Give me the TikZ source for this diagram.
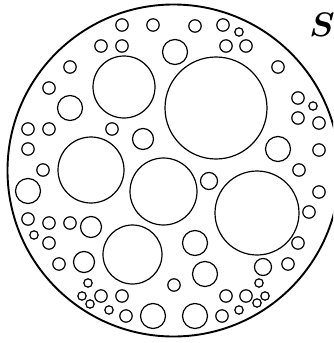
\documentclass[tikz,border=0pt]{standalone}
\usepackage{bm}
\begin{document}
\begin{tikzpicture}[x=1pt,y=-1pt,
  hole/.style={draw=black,line width=1.2pt},
  rim/.style={draw=black,line width=1.9pt}]
\useasboundingbox (0,0) rectangle (333,343);
\begin{scope}
\clip (0,0) rectangle (333,343);
\node[circle,rim,minimum size=332pt,inner sep=0pt] (rimc) at (173.5,170.5) {};
\end{scope}
% large
\foreach \x/\y/\r [count=\i] in {124/87/31, 216/108/51, 91/170/33, 163.5/191.5/33.5, 257/213/42, 132.5/254.5/29.5}
  \node[circle,hole,minimum size=2*\r pt,inner sep=0pt] (L\i) at (\x,\y) {};
% medium
\foreach \x/\y/\r [count=\i] in {175/52/12.5, 70/108/12.5, 143/139/10.5, 278/149/12.5, 28/191/12.5, 91/227/10.5, 84/262/10.5, 195/243/12.5, 205/274/12.5, 153/316/12.5, 195/316/12.5, 263/267/8.5, 209/181/8.5}
  \node[circle,hole,minimum size=2*\r pt,inner sep=0pt] (M\i) at (\x,\y) {};
% small
\foreach \x/\y [count=\i] in {122/25, 153/25, 195/26, 223/25, 101/46, 122/46, 226/46, 246/46, 70/67, 278/67, 49/88, 298/98, 298/118, 319/123, 28/129, 49/129, 112/129, 28/149, 319/150, 43/170, 299/170, 319/192, 309/212, 28/219, 49/223, 70/223, 49/243, 298/243, 59/264, 288/264, 174/285, 101/296, 122/296, 226/296, 246/296, 126/316, 222/316}
  \node[circle,hole,minimum size=12.4pt,inner sep=0pt] (S\i) at (\x,\y) {};
% tiny
\foreach \x/\y [count=\i] in {239/32, 313/106, 34/235, 88/283, 259/283, 82/296, 265/296, 90/304, 257/303, 109/310, 239/310}
  \node[circle,hole,minimum size=8.4pt,inner sep=0pt] (T\i) at (\x,\y) {};
\node[inner sep=0pt] (lab) at (322,25) {\scalebox{3.4}{$\bm{S}$}};
\end{tikzpicture}
\end{document}
